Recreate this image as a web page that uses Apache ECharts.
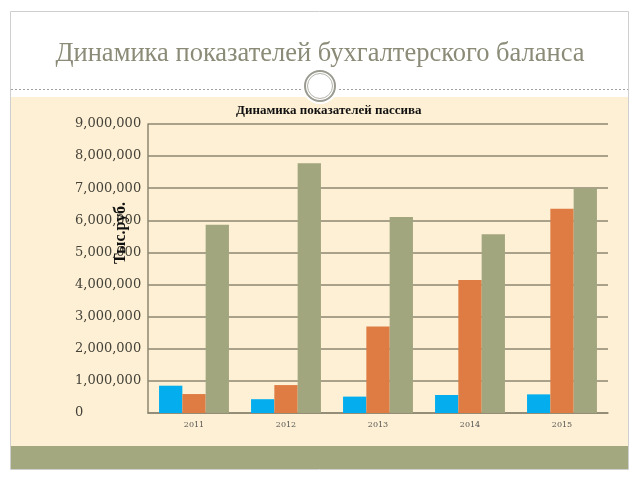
<!DOCTYPE html>
<html>
<head>
<meta charset="utf-8">
<script src="https://cdn.jsdelivr.net/npm/echarts@6/dist/echarts.min.js"></script>
<style>html,body{margin:0;padding:0;background:#fff}#c{width:640px;height:480px}</style>
</head>
<body>
<div id="c"></div>
<script>
const categories = ['2011', '2012', '2013', '2014', '2015'];
const seriesBlue = [850000, 430000, 510000, 560000, 580000];
const seriesOrange = [590000, 870000, 2690000, 4140000, 6360000];
const seriesGreen = [5860000, 7780000, 6100000, 5570000, 7000000];
const slideTitle = 'Динамика показателей бухгалтерского баланса';
const chartTitle = 'Динамика показателей пассива';
const axisName = 'Тыс.руб.';

const chart = echarts.init(document.getElementById('c'), null, {renderer: 'canvas'});
const gridColor = '#8d8772';
function mkSeries(data, color) {
  return {type: 'bar', data: data, barGap: '0%', barCategoryGap: '24%',
    itemStyle: {color: color}, z: 3};
}
chart.setOption({
  backgroundColor: '#ffffff',
  animation: false,
  graphic: [
    {type: 'rect', z: -10, shape: {x: 10.5, y: 11.5, width: 618, height: 458},
      style: {fill: '#ffffff', stroke: '#cfcfcf', lineWidth: 1}},
    {type: 'rect', z: -9, shape: {x: 11, y: 97, width: 617, height: 349},
      style: {fill: '#fdf0d4'}},
    {type: 'rect', z: -9, shape: {x: 11, y: 446, width: 617, height: 23},
      style: {fill: '#a3a87f'}},
    {type: 'line', z: -8, shape: {x1: 11, y1: 89.5, x2: 628, y2: 89.5},
      style: {stroke: '#a0a0a0', lineWidth: 1, lineDash: [2, 2]}},
    {type: 'circle', z: -7, shape: {cx: 320, cy: 86, r: 18},
      style: {fill: '#ffffff', stroke: null}},
    {type: 'circle', z: -6, shape: {cx: 320, cy: 86, r: 15},
      style: {fill: '#ffffff', stroke: '#9a9a90', lineWidth: 2}},
    {type: 'circle', z: -6, shape: {cx: 320, cy: 86, r: 12.5},
      style: {fill: 'none', stroke: '#b5b5ab', lineWidth: 1}},
    {type: 'text', z: 10, x: 121, y: 233, rotation: Math.PI / 2,
      style: {text: axisName, fill: '#111', font: 'bold 16px "Liberation Serif", serif',
        align: 'center', verticalAlign: 'middle', textAlign: 'center', textVerticalAlign: 'middle'}}
  ],
  title: [
    {text: slideTitle, left: 'center', top: 36,
      textStyle: {fontFamily: '"Liberation Serif", serif', fontSize: 26.5, fontWeight: 'normal', color: '#8b8b78'}},
    {text: chartTitle, left: 231, top: 99,
      textStyle: {fontFamily: '"Liberation Serif", serif', fontSize: 13, fontWeight: 'bold', color: '#111'}}
  ],
  grid: {left: 148, right: 32, top: 124, bottom: 67, containLabel: false},
  xAxis: {
    type: 'category', data: categories,
    axisLine: {lineStyle: {color: gridColor, width: 1.5}},
    axisTick: {show: false},
    axisLabel: {fontFamily: '"DejaVu Serif", serif', fontSize: 8, color: '#555', margin: 8}
  },
  yAxis: {
    type: 'value', min: 0, max: 9000000, interval: 1000000,
    axisLine: {show: true, lineStyle: {color: gridColor, width: 1.5}},
    axisTick: {show: false},
    splitLine: {lineStyle: {color: gridColor, width: 1.5}},
    axisLabel: {fontFamily: '"DejaVu Serif", serif', fontSize: 13, color: '#45423a', margin: 73, align: 'left',
      formatter: v => v.toString().replace(/\B(?=(\d{3})+(?!\d))/g, ',')}
  },
  series: [
    mkSeries(seriesBlue, '#04aeee'),
    mkSeries(seriesOrange, '#de7c43'),
    mkSeries(seriesGreen, '#a2a67e')
  ]
});
</script>
</body>
</html>
